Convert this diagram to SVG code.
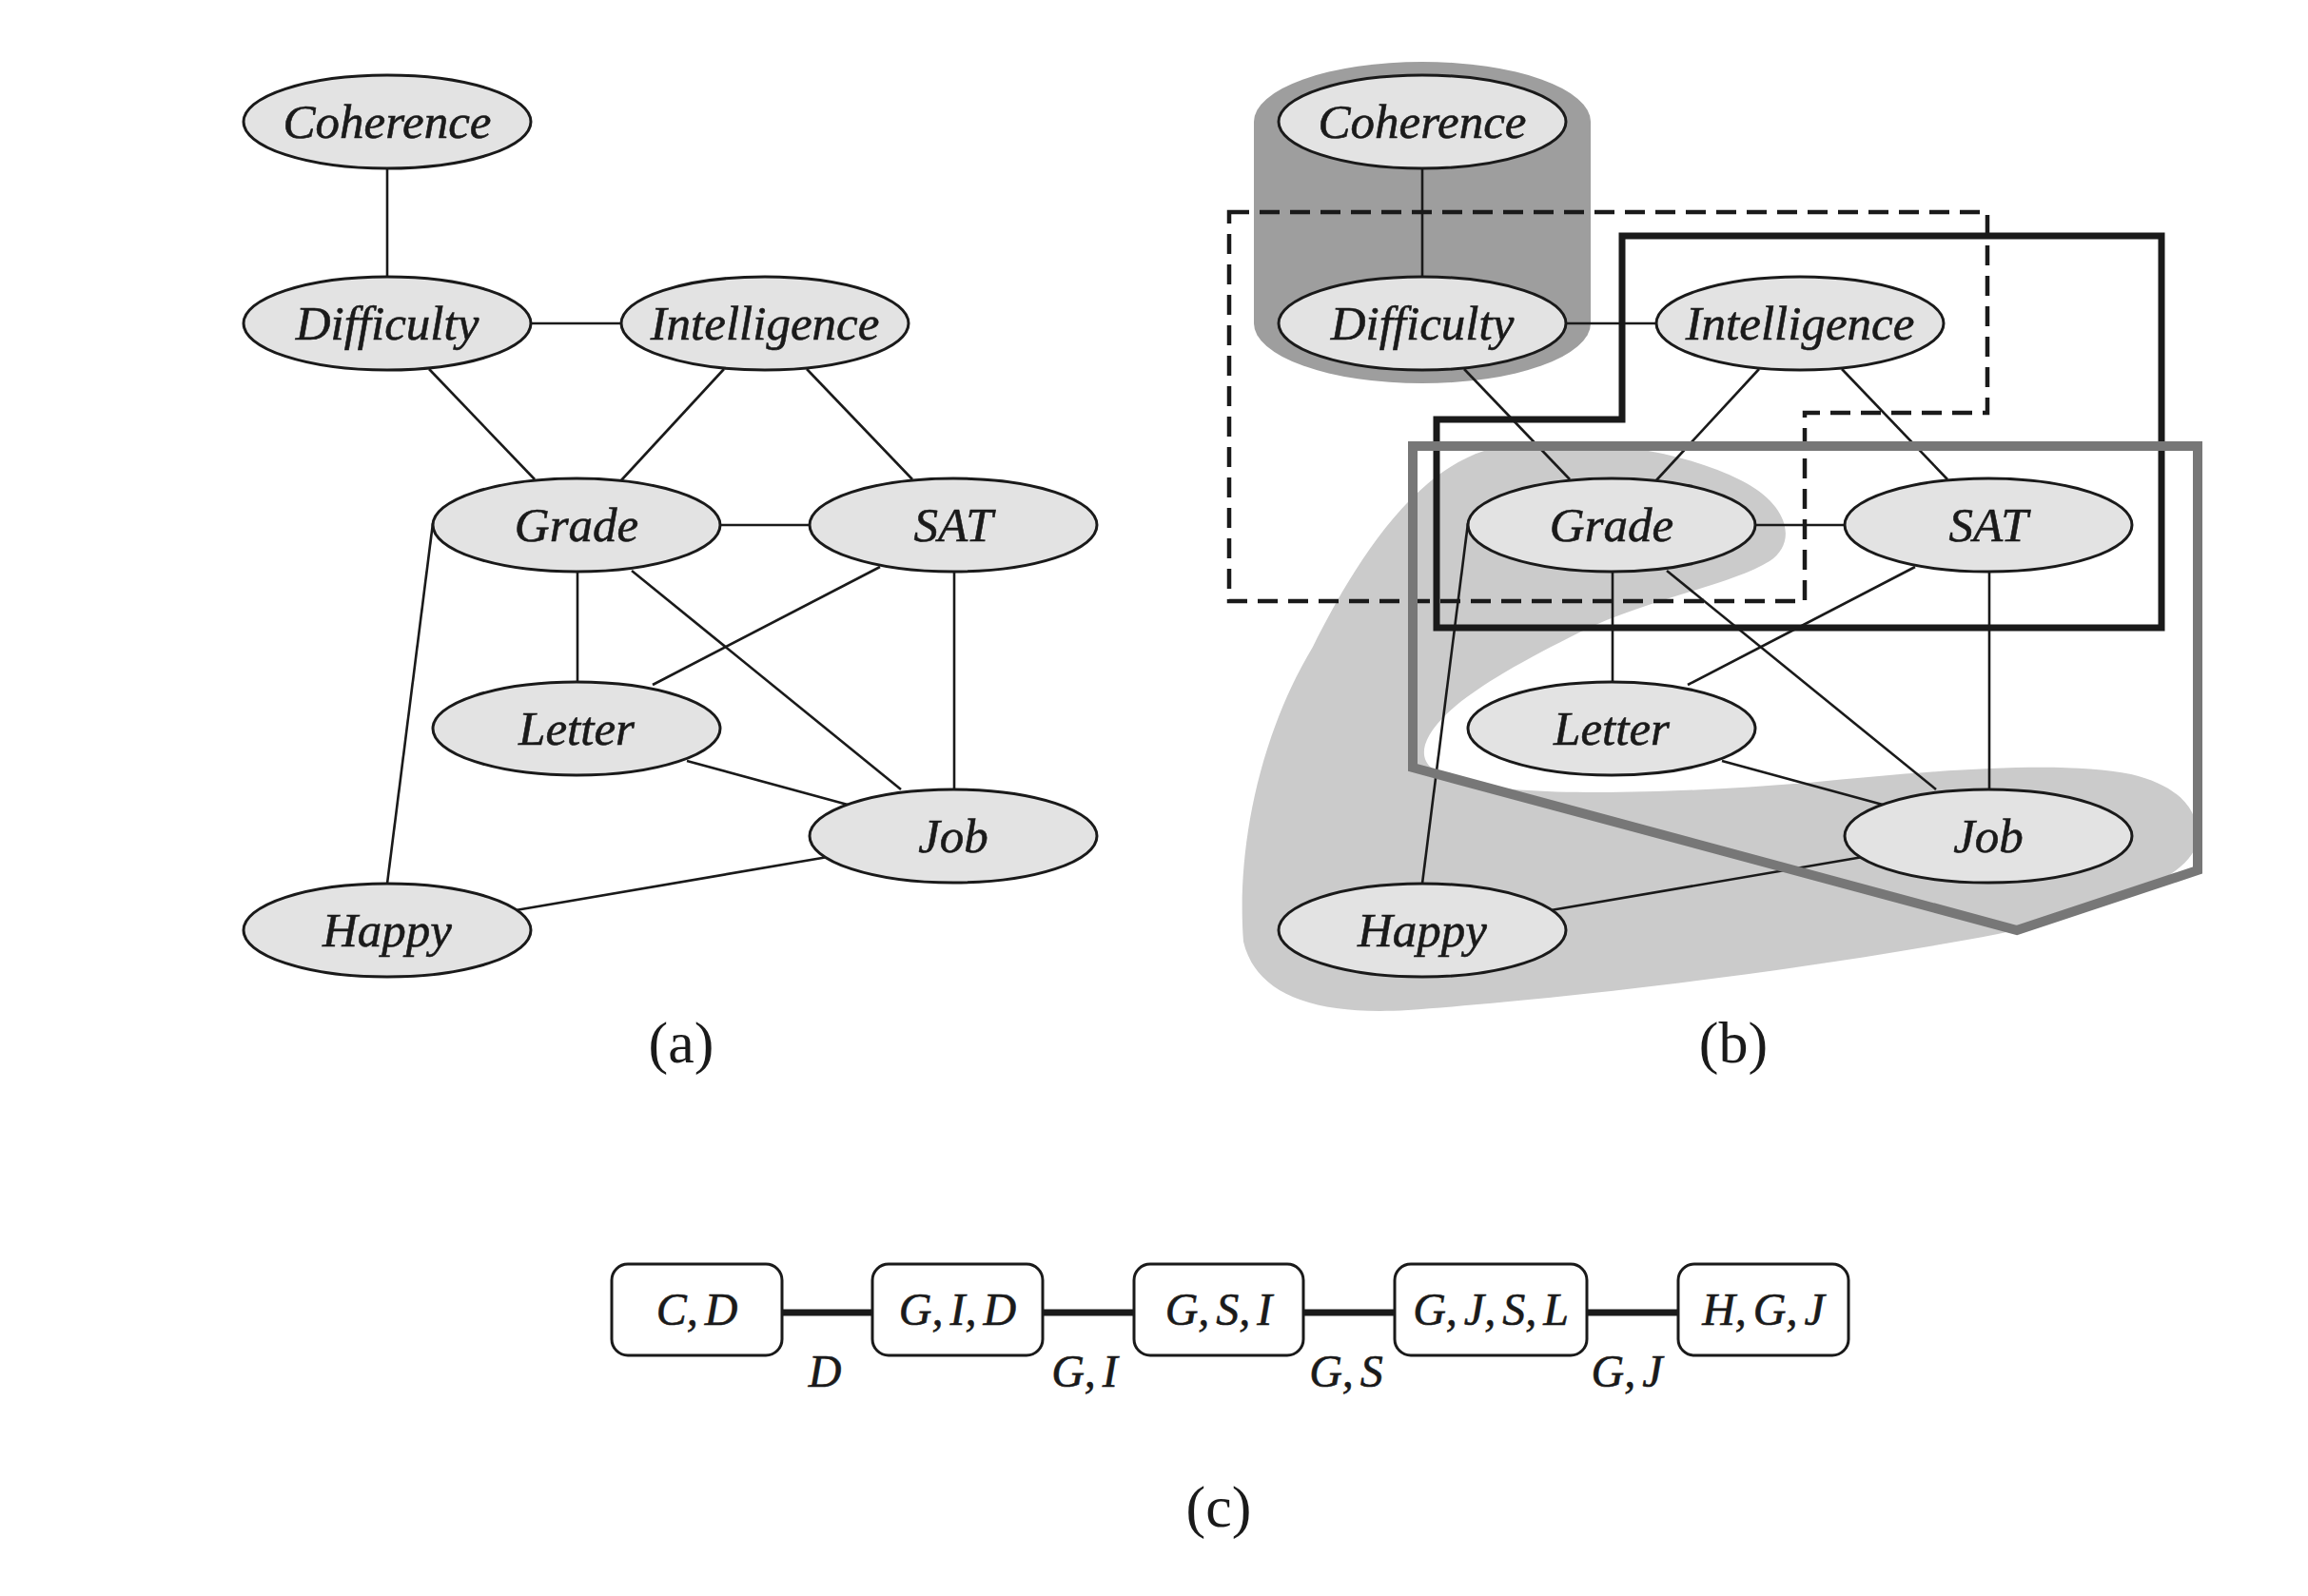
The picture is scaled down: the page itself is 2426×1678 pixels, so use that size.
<svg xmlns="http://www.w3.org/2000/svg" width="2426" height="1678" viewBox="0 0 2426 1678">
<style>
.n ellipse{fill:#e3e3e3;stroke:#1a1a1a;stroke-width:3}
.n text,.lbl{font-family:"Liberation Serif","Times New Roman",serif;font-style:italic;font-size:51px;fill:#1a1a1a;stroke:#1a1a1a;stroke-width:0.6;text-anchor:middle}
.e line{stroke:#1a1a1a;stroke-width:2.6}
.cap{font-family:"Liberation Serif","Times New Roman",serif;font-size:62px;fill:#1a1a1a;text-anchor:middle}
.box rect{fill:#ffffff;stroke:#1a1a1a;stroke-width:3}
.box text,.lbl{font-size:48px;word-spacing:-5px}
.ce line{stroke:#1a1a1a;stroke-width:7}
</style>
<rect width="2426" height="1678" fill="#ffffff"/>

<!-- Panel (a) connectors -->
<g id="edges-a" class="e">
<line x1="407" y1="177" x2="407" y2="291"/>
<line x1="558" y1="340" x2="652" y2="340"/>
<line x1="451" y1="388" x2="562" y2="504"/>
<line x1="761" y1="388" x2="653" y2="505"/>
<line x1="848" y1="388" x2="959" y2="504"/>
<line x1="757" y1="552" x2="853" y2="552"/>
<line x1="607" y1="601" x2="607" y2="717"/>
<line x1="664" y1="600" x2="947" y2="830"/>
<line x1="925" y1="596" x2="686" y2="720"/>
<line x1="1003" y1="601" x2="1003" y2="830"/>
<line x1="722" y1="800" x2="891" y2="846"/>
<line x1="455" y1="550" x2="407" y2="929"/>
<line x1="542" y1="957" x2="870" y2="901"/>
</g>

<!-- Panel (a) nodes -->
<g id="a-coherence" class="n"><ellipse cx="407" cy="128" rx="151" ry="49"/><text x="407" y="145">Coherence</text></g>
<g id="a-difficulty" class="n"><ellipse cx="407" cy="340" rx="151" ry="49"/><text x="407" y="357">Difficulty</text></g>
<g id="a-intelligence" class="n"><ellipse cx="804" cy="340" rx="151" ry="49"/><text x="804" y="357">Intelligence</text></g>
<g id="a-grade" class="n"><ellipse cx="606" cy="552" rx="151" ry="49"/><text x="606" y="569">Grade</text></g>
<g id="a-sat" class="n"><ellipse cx="1002" cy="552" rx="151" ry="49"/><text x="1002" y="569">SAT</text></g>
<g id="a-letter" class="n"><ellipse cx="606" cy="766" rx="151" ry="49"/><text x="606" y="783">Letter</text></g>
<g id="a-job" class="n"><ellipse cx="1002" cy="879" rx="151" ry="49"/><text x="1002" y="896">Job</text></g>
<g id="a-happy" class="n"><ellipse cx="407" cy="978" rx="151" ry="49"/><text x="407" y="995">Happy</text></g>

<text class="cap" x="716" y="1117">(a)</text>

<!-- Panel (b) shaded regions -->
<g id="b-regions">
<path id="b-dark" fill="#9e9e9e" d="M1318,128 A177,63 0 0 1 1672,128 L1672,340 A177,63 0 0 1 1318,340 Z"/>
<path id="b-light" fill="#cbcbcb" d="M1560,474 C1650,455 1760,470 1830,505 C1880,530 1890,570 1860,590 C1820,615 1730,630 1660,665 C1580,705 1510,745 1498,783 C1492,805 1510,815 1540,822 C1600,838 1750,835 1900,823 C2050,808 2170,800 2240,814 C2290,826 2310,850 2310,880 C2310,925 2200,960 2100,982 C1900,1020 1650,1050 1480,1062 C1380,1068 1320,1045 1307,990 C1300,900 1320,780 1380,680 C1420,600 1480,500 1560,474 Z"/>
</g>

<!-- Panel (b) connectors -->
<g id="edges-b" class="e" transform="translate(1088,0)">
<line x1="407" y1="177" x2="407" y2="291"/>
<line x1="558" y1="340" x2="652" y2="340"/>
<line x1="451" y1="388" x2="562" y2="504"/>
<line x1="761" y1="388" x2="653" y2="505"/>
<line x1="848" y1="388" x2="959" y2="504"/>
<line x1="757" y1="552" x2="853" y2="552"/>
<line x1="607" y1="601" x2="607" y2="717"/>
<line x1="664" y1="600" x2="947" y2="830"/>
<line x1="925" y1="596" x2="686" y2="720"/>
<line x1="1003" y1="601" x2="1003" y2="830"/>
<line x1="722" y1="800" x2="891" y2="846"/>
<line x1="455" y1="550" x2="407" y2="929"/>
<line x1="542" y1="957" x2="870" y2="901"/>
</g>

<!-- Panel (b) nodes -->
<g id="b-coherence" class="n"><ellipse cx="1495" cy="128" rx="151" ry="49"/><text x="1495" y="145">Coherence</text></g>
<g id="b-difficulty" class="n"><ellipse cx="1495" cy="340" rx="151" ry="49"/><text x="1495" y="357">Difficulty</text></g>
<g id="b-intelligence" class="n"><ellipse cx="1892" cy="340" rx="151" ry="49"/><text x="1892" y="357">Intelligence</text></g>
<g id="b-grade" class="n"><ellipse cx="1694" cy="552" rx="151" ry="49"/><text x="1694" y="569">Grade</text></g>
<g id="b-sat" class="n"><ellipse cx="2090" cy="552" rx="151" ry="49"/><text x="2090" y="569">SAT</text></g>
<g id="b-letter" class="n"><ellipse cx="1694" cy="766" rx="151" ry="49"/><text x="1694" y="783">Letter</text></g>
<g id="b-job" class="n"><ellipse cx="2090" cy="879" rx="151" ry="49"/><text x="2090" y="896">Job</text></g>
<g id="b-happy" class="n"><ellipse cx="1495" cy="978" rx="151" ry="49"/><text x="1495" y="995">Happy</text></g>

<!-- Panel (b) cluster outlines -->
<g id="b-outlines" fill="none" stroke-linejoin="miter">
<path id="b-dashed" stroke="#1a1a1a" stroke-width="4.5" stroke-dasharray="21 11" d="M1292,223 L2089,223 L2089,434 L1897,434 L1897,632 L1292,632 Z"/>
<path id="b-solid" stroke="#1a1a1a" stroke-width="7" d="M1705,248 L2272,248 L2272,660 L1510,660 L1510,441 L1705,441 Z"/>
<path id="b-pentagon" stroke="#777777" stroke-width="10" d="M1485,469 L2310,469 L2310,915 L2120,978 L1485,807 Z"/>
</g>

<text class="cap" x="1822" y="1117">(b)</text>

<!-- Panel (c) connectors -->
<g id="edges-c" class="ce">
<line x1="822" y1="1380" x2="917" y2="1380"/>
<line x1="1096" y1="1380" x2="1192" y2="1380"/>
<line x1="1370" y1="1380" x2="1466" y2="1380"/>
<line x1="1668" y1="1380" x2="1764" y2="1380"/>
</g>
<g id="sepsets">
<text class="lbl" x="867" y="1458">D</text>
<text class="lbl" x="1140" y="1458">G, I</text>
<text class="lbl" x="1415" y="1458">G, S</text>
<text class="lbl" x="1710" y="1458">G, J</text>
</g>

<!-- Panel (c) cliques -->
<g id="c-cd" class="n box"><rect x="643" y="1329" width="179" height="96" rx="17"/><text x="732.5" y="1393">C, D</text></g>
<g id="c-gid" class="n box"><rect x="917" y="1329" width="179" height="96" rx="17"/><text x="1006.5" y="1393">G, I, D</text></g>
<g id="c-gsi" class="n box"><rect x="1192" y="1329" width="178" height="96" rx="17"/><text x="1281" y="1393">G, S, I</text></g>
<g id="c-gjsl" class="n box"><rect x="1466" y="1329" width="202" height="96" rx="17"/><text x="1567" y="1393">G, J, S, L</text></g>
<g id="c-hgj" class="n box"><rect x="1764" y="1329" width="179" height="96" rx="17"/><text x="1853.5" y="1393">H, G, J</text></g>

<text class="cap" x="1281" y="1605">(c)</text>
</svg>
